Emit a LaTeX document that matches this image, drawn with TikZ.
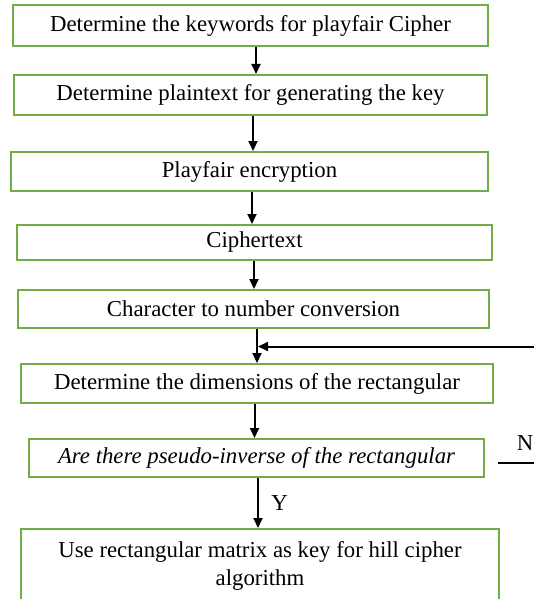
\documentclass[tikz,border=0pt]{standalone}
\usepackage{fontspec}
\setmainfont{Liberation Serif}
\usetikzlibrary{arrows.meta,calc}
\definecolor{boxgreen}{HTML}{70AD47}
\begin{document}
\begin{tikzpicture}[x=1pt,y=-1pt,
  flowbox/.style={draw=boxgreen,line width=2pt,rectangle,inner sep=0pt,align=center,
     font=\fontsize{22.8}{28}\selectfont},
  arr/.style={draw=black,line width=2pt,-{Triangle[length=10pt,width=9pt]}},
  plainline/.style={draw=black,line width=2pt}]
\useasboundingbox (0,0) rectangle (534,599);
\node[flowbox,minimum width=475pt,minimum height=41pt] (b1) at (250.5,25.5) {Determine the keywords for playfair Cipher};
\node[flowbox,minimum width=473pt,minimum height=40pt] (b2) at (250.5,95) {Determine plaintext for generating the key};
\node[flowbox,minimum width=477pt,minimum height=39pt] (b3) at (249.5,171.5) {Playfair encryption};
\node[flowbox,minimum width=475pt,minimum height=35pt] (b4) at (254.5,242.5) {Ciphertext};
\node[flowbox,minimum width=471pt,minimum height=38pt] (b5) at (253.5,309) {Character to number conversion};
\node[flowbox,minimum width=472pt,minimum height=39pt] (b6) at (257,383.5) {Determine the dimensions of the rectangular};
\node[flowbox,minimum width=455pt,minimum height=38pt] (b7) at (256.5,458) {\itshape Are there pseudo-inverse of the rectangular};
\node[flowbox,minimum width=478pt,minimum height=73pt] (b8) at (260,565.5) {Use rectangular matrix as key for hill cipher\\algorithm};

\draw[arr] ([xshift=5.5pt]b1.south) -- ([xshift=5.5pt]b1.south |- b2.north);
\draw[arr] ([xshift=2.5pt]b2.south) -- ([xshift=2.5pt]b2.south |- b3.north);
\draw[arr] ([xshift=2.5pt]b3.south) -- ([xshift=2.5pt]b3.south |- b4.north);
\draw[arr] ([xshift=-0.5pt]b4.south) -- ([xshift=-0.5pt]b4.south |- b5.north);
\draw[arr] ([xshift=3.5pt]b5.south) -- ([xshift=3.5pt]b5.south |- b6.north);
\coordinate (fb) at (545,346.5);
\draw[arr] (fb) -- ($(fb -| b5.south)+(4.5pt,0)$);
\draw[arr] ([xshift=-2pt]b7.north |- b6.south) -- ([xshift=-2pt]b7.north);
\draw[arr] ([xshift=1.5pt]b7.south) -- ([xshift=1.5pt]b7.south |- b8.north) node[pos=0.5,right=9pt,font=\fontsize{22.8}{26}\selectfont] (ylab) {Y};
\coordinate (noend) at (545,463);
\draw[plainline] ([xshift=13pt]b7.east |- noend) -- (noend);
\node[font=\fontsize{22.8}{26}\selectfont,anchor=east,inner sep=0pt] (nlab) at (533.5,443) {N};
\end{tikzpicture}
\end{document}
